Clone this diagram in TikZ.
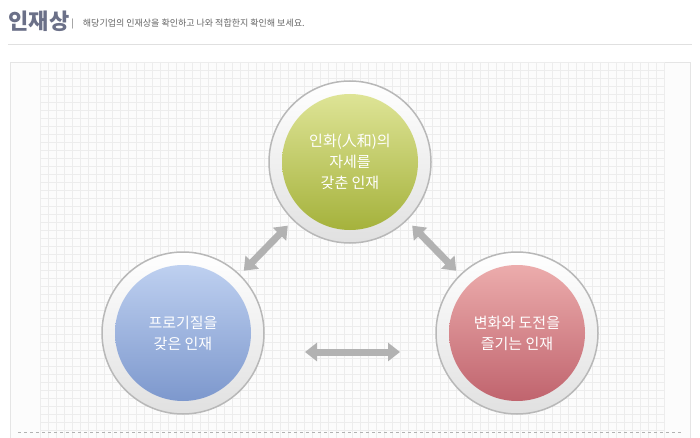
\documentclass[tikz,border=0pt]{standalone}
\usepackage{fontspec}
\setmainfont{Noto Sans CJK KR}
\usetikzlibrary{arrows.meta}
\definecolor{titlec}{HTML}{6B7088}
\definecolor{subc}{HTML}{666666}
\tikzset{
 ring/.style={circle,draw=black!28,line width=1.5pt,fill=white,minimum size=162pt,inner sep=0pt},
 ball/.style={circle,minimum size=136pt,inner sep=0pt,text=white,align=center,font=\fontsize{15pt}{21pt}\selectfont},
 dbl/.style={{Triangle[length=12pt,width=18pt]}-{Triangle[length=12pt,width=18pt]},line width=7pt,draw=black!30}
}
\begin{document}
\begin{tikzpicture}[x=1pt,y=-1pt]
\useasboundingbox (0,0) rectangle (700,438);
\fill[white] (0,0) rectangle (700,438);
\node[anchor=west,text=titlec,font=\fontsize{22pt}{24pt}\selectfont\bfseries] (title) at (5,21) {인재상};
\node[anchor=west,text=subc,font=\fontsize{9pt}{11pt}\selectfont] (sub) at (68,24) {|\quad 해당기업의 인재상을 확인하고 나와 적합한지 확인해 보세요.};
\draw[black!12] (8,44) -- (692,44);
\draw[black!10,fill=black!1] (10,62) rectangle (690,438);
\foreach \i in {0,...,78} \draw[black!7] (40+8*\i,62) -- (40+8*\i,438);
\foreach \j in {0,...,47} \draw[black!7] (40,62+8*\j) -- (664,62+8*\j);
\draw[black!30,dashed] (18,432) -- (682,432);
\coordinate (ct) at (350,162);
\coordinate (cl) at (183,333);
\coordinate (cr) at (517,333);
\coordinate (ba) at (305,352);
\coordinate (bb) at (400,352);
\draw[dbl,shorten <=87pt,shorten >=89pt] (cl) -- (ct);
\draw[dbl,shorten <=89pt,shorten >=87pt] (ct) -- (cr);
\draw[dbl] (ba) -- (bb);
\node[ring,shading=axis,top color=white,bottom color=black!12] (rt) at (ct) {};
\node[ring,shading=axis,top color=white,bottom color=black!12] (rl) at (cl) {};
\node[ring,shading=axis,top color=white,bottom color=black!12] (rr) at (cr) {};
\node[ball,shading=axis,top color={rgb,255:red,222;green,228;blue,150},bottom color={rgb,255:red,165;green,178;blue,60}] (t) at (ct) {인화(人和)의\\자세를\\갖춘 인재};
\node[ball,shading=axis,top color={rgb,255:red,190;green,208;blue,240},bottom color={rgb,255:red,125;green,152;blue,205}] (l) at (cl) {프로기질을\\갖은 인재};
\node[ball,shading=axis,top color={rgb,255:red,236;green,172;blue,172},bottom color={rgb,255:red,192;green,100;blue,110}] (r) at (cr) {변화와 도전을\\즐기는 인재};
\end{tikzpicture}
\end{document}
